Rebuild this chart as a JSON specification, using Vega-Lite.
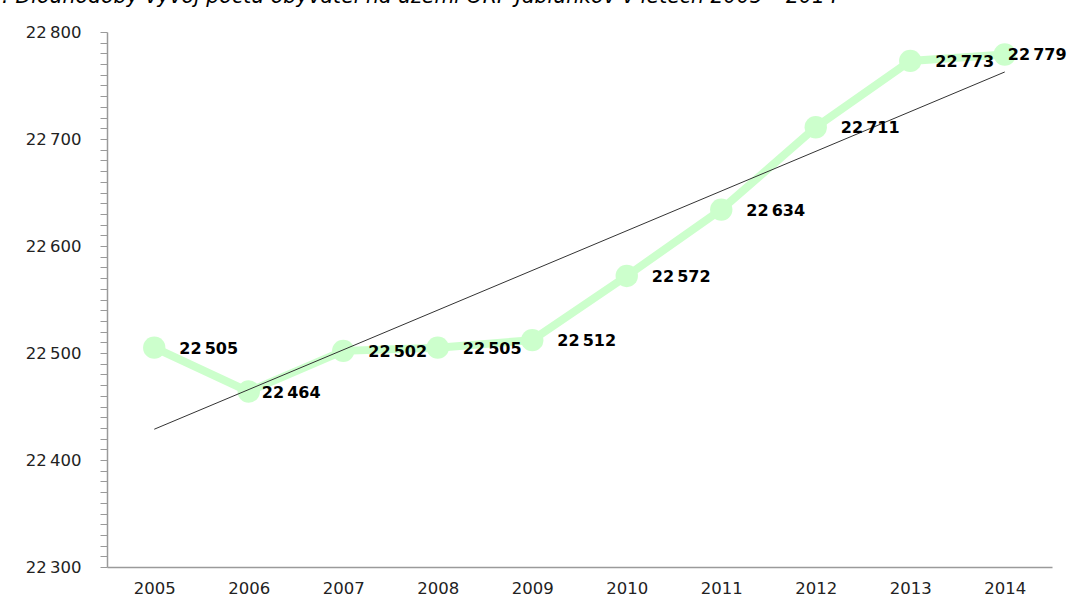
{
  "$schema": "https://vega.github.io/schema/vega-lite/v6.json",
  "width": 945,
  "height": 535,
  "autosize": {"type": "none"},
  "padding": {"left": 107, "top": 32, "right": 15, "bottom": 36},
  "background": "white",
  "title": {
    "text": ": Dlouhodobý vývoj počtu obyvatel na území ORP Jablunkov v letech 2005 – 2014",
    "anchor": "start",
    "frame": "group",
    "font": "DejaVu Sans",
    "fontStyle": "italic",
    "fontWeight": "normal",
    "fontSize": 20.5,
    "color": "#000000",
    "baseline": "alphabetic",
    "dx": -105,
    "dy": 16,
    "offset": 17
  },
  "config": {
    "locale": {"number": {"decimal": ",", "thousands": "\u2009", "grouping": [3], "currency": ["", ""]}},
    "view": {"stroke": null},
    "axis": {"grid": false, "labelFont": "DejaVu Sans", "labelFontSize": 16.5, "labelColor": "#222222", "domainColor": "#9a9a9a", "tickColor": "#9a9a9a", "title": null}
  },
  "data": {
    "values": [
      {"year": 2005, "pop": 22505},
      {"year": 2006, "pop": 22464},
      {"year": 2007, "pop": 22502},
      {"year": 2008, "pop": 22505},
      {"year": 2009, "pop": 22512},
      {"year": 2010, "pop": 22572},
      {"year": 2011, "pop": 22634},
      {"year": 2012, "pop": 22711},
      {"year": 2013, "pop": 22773},
      {"year": 2014, "pop": 22779}
    ]
  },
  "encoding": {
    "x": {
      "field": "year", "type": "quantitative",
      "scale": {"domain": [2004.5, 2014.5], "nice": false, "zero": false},
      "axis": {"values": [2005, 2006, 2007, 2008, 2009, 2010, 2011, 2012, 2013, 2014], "format": "d", "ticks": false, "labelPadding": 13, "domainWidth": 1.5}
    },
    "y": {
      "field": "pop", "type": "quantitative",
      "scale": {"domain": [22300, 22800], "nice": false, "zero": false},
      "axis": {"tickCount": 50, "tickSize": 7, "labelPadding": 19, "domainWidth": 1.5,
               "labelExpr": "datum.value % 100 == 0 ? format(datum.value, ',d') : ''"}
    }
  },
  "layer": [
    {
      "mark": {"type": "line", "color": "#ccffcc", "strokeWidth": 8}
    },
    {
      "mark": {"type": "point", "filled": true, "color": "#ccffcc", "opacity": 1, "size": 500}
    },
    {
      "transform": [{"regression": "pop", "on": "year"}],
      "mark": {"type": "line", "color": "#333333", "strokeWidth": 1}
    },
    {
      "transform": [{"filter": "datum.year != 2006 && datum.year != 2014"}],
      "mark": {"type": "text", "align": "left", "baseline": "middle", "font": "DejaVu Sans", "fontWeight": "bold", "fontSize": 16, "color": "#000000", "dx": 25, "dy": 1},
      "encoding": {"text": {"field": "pop", "type": "quantitative", "format": ",d"}}
    },
    {
      "transform": [{"filter": "datum.year == 2006"}],
      "mark": {"type": "text", "align": "left", "baseline": "middle", "font": "DejaVu Sans", "fontWeight": "bold", "fontSize": 16, "color": "#000000", "dx": 13, "dy": 1},
      "encoding": {"text": {"field": "pop", "type": "quantitative", "format": ",d"}}
    },
    {
      "transform": [{"filter": "datum.year == 2014"}],
      "mark": {"type": "text", "align": "left", "baseline": "middle", "font": "DejaVu Sans", "fontWeight": "bold", "fontSize": 16, "color": "#000000", "dx": 3, "dy": 1},
      "encoding": {"text": {"field": "pop", "type": "quantitative", "format": ",d"}}
    }
  ]
}
